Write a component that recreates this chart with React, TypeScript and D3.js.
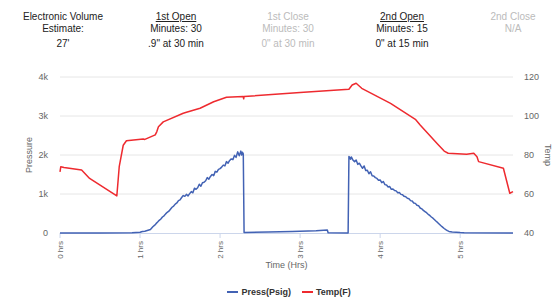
import React from "react";
import * as d3 from "d3";

// header table above the chart
const headerTitles = ["Electronic Volume", "1st Open", "1st Close", "2nd Open", "2nd Close"];
const headerLine2 = ["Estimate:", "Minutes: 30", "Minutes: 30", "Minutes: 15", "N/A"];
const headerLine3 = ["27'", '.9" at 30 min', '0" at 30 min', '0" at 15 min', ""];
const headerActive = [true, true, false, true, false];
const headerUnderline = [false, true, false, true, false];

// axes
const timeTicks = [0, 1, 2, 3, 4, 5];
const timeMax = 5.66;
const pressTicks = [0, 1000, 2000, 3000, 4000];
const pressTickLabels = ["0", "1k", "2k", "3k", "4k"];
const tempTicks = [40, 60, 80, 100, 120];

// Press(Psig) series
const pressHours = [
  0, 0.5, 0.9, 1.0, 1.03, 1.06, 1.1, 1.13,
  1.16, 1.18, 1.2, 1.22, 1.24, 1.26, 1.28, 1.3, 1.32, 1.34, 1.36, 1.38, 1.4, 1.42, 1.44, 1.46, 1.48,
  1.5, 1.52, 1.54, 1.56, 1.58, 1.6, 1.62, 1.64, 1.66, 1.68, 1.7, 1.72, 1.74, 1.76, 1.78, 1.8,
  1.82, 1.84, 1.86, 1.88, 1.9, 1.92, 1.94, 1.96, 1.98, 2.0, 2.02, 2.04, 2.06, 2.08, 2.1, 2.12,
  2.14, 2.16, 2.18, 2.2, 2.22, 2.24, 2.26, 2.27, 2.28, 2.29, 2.3,
  2.6, 2.9, 3.2, 3.34, 3.35, 3.6, 3.61,
  3.62, 3.63, 3.64, 3.66, 3.68, 3.7, 3.72, 3.74, 3.76, 3.78, 3.8, 3.82, 3.84, 3.86, 3.88, 3.9, 3.92,
  3.94, 3.96, 3.98, 4.0, 4.02, 4.04, 4.06, 4.08, 4.1, 4.12, 4.14, 4.16, 4.18, 4.2, 4.22, 4.24,
  4.26, 4.28, 4.3, 4.32, 4.34, 4.36, 4.38, 4.4, 4.42, 4.44, 4.46, 4.48, 4.5, 4.52, 4.54, 4.56,
  4.58, 4.6, 4.62, 4.64, 4.66, 4.68, 4.7, 4.72, 4.74, 4.76, 4.78, 4.8, 4.82, 4.84, 4.86, 4.9,
  4.95, 5.0, 5.05, 5.66,
];
const pressPsi = [
  0, 0, 5, 20, 40, 45, 70, 90,
  160, 195, 240, 280, 325, 360, 410, 440, 490, 530, 560, 610, 660, 690, 740, 770, 830,
  850, 910, 960, 940, 990, 950, 1010, 1060, 1030, 1150, 1120, 1160, 1250, 1200, 1290, 1300,
  1340, 1420, 1380, 1450, 1500, 1470, 1580, 1560, 1630, 1650, 1690, 1740, 1720, 1830, 1790, 1860,
  1900, 1880, 1990, 1940, 2080, 1980, 2100, 2000, 2070, 2030, 15,
  25, 40, 55, 75, 5, 0, 1960,
  1940, 1890, 1950, 1870, 1830, 1870, 1760, 1790, 1720, 1660, 1720, 1600, 1610, 1520, 1570, 1470, 1460,
  1420, 1400, 1350, 1360, 1290, 1320, 1240, 1230, 1180, 1190, 1120, 1130, 1090, 1080, 1030, 1040,
  990, 980, 940, 930, 890, 880, 830, 820, 770, 760, 710, 700, 640, 620, 580, 550,
  520, 480, 450, 410, 380, 340, 300, 265, 225, 185, 150, 115, 85, 60, 40, 25,
  20, 10, 5, 0,
];

// Temp(F) series
const tempHours = [
  0, 0.01, 0.05, 0.27, 0.37, 0.71, 0.74, 0.79, 0.83, 1.04, 1.06, 1.19, 1.21, 1.23, 1.29, 1.54, 1.57,
  1.75, 1.92, 2.08, 2.29, 2.295, 2.3, 3.0, 3.61, 3.65, 3.7, 3.77, 4.13, 4.44, 4.5, 4.72, 4.8, 4.85,
  5.08, 5.17, 5.21, 5.23, 5.54, 5.62, 5.66,
];
const tempF = [
  71.4, 74, 73.6, 72.3, 68, 59, 74, 85, 87.3, 88.2, 88, 90.3, 92, 94.5, 97, 101.4, 101.8,
  104, 107.3, 109.6, 110, 108.8, 110, 112, 113.7, 115.9, 116.8, 114.2, 106.5, 98.3, 95.4, 85.5, 82, 80.9,
  80.4, 80.9, 79.1, 76.6, 73.2, 60.4, 61.2,
];

const W = 555;
const H = 297;
const left = 60;
const right = 513;
const top = 77;
const bottom = 233;

const blue = "#4262b4";
const red = "#ee2a2f";
const font = "'Liberation Sans', Arial, sans-serif";

export default function App() {
  const x = d3.scaleLinear().domain([0, timeMax]).range([left, right]);
  const yP = d3.scaleLinear().domain([0, 4000]).range([bottom, top]);
  const yT = d3.scaleLinear().domain([40, 120]).range([bottom, top]);

  const pressLine = d3
    .line<number>()
    .x((_, i) => x(pressHours[i]))
    .y((d) => yP(d));
  const tempLine = d3
    .line<number>()
    .x((_, i) => x(tempHours[i]))
    .y((d) => yT(d));

  const colX = [63, 176, 288, 402, 513];

  return (
    <svg
      width={W}
      height={H}
      style={{ position: "absolute", left: 0, top: 0, display: "block", background: "#fff" }}
      fontFamily={font}
    >
      {/* header */}
      {headerTitles.map((t, i) => {
        const fill = headerActive[i] ? "#222" : "#bbb";
        return (
          <g key={t} fill={fill} fontSize={10} textAnchor="middle">
            <text x={colX[i]} y={20} style={{ textDecoration: headerUnderline[i] ? "underline" : "none" }}>
              {t}
            </text>
            <text x={colX[i]} y={32}>{headerLine2[i]}</text>
            <text x={colX[i]} y={46.5}>{headerLine3[i]}</text>
          </g>
        );
      })}

      {/* grid */}
      {pressTicks.slice(1).map((t) => (
        <line key={t} x1={left} x2={right} y1={yP(t)} y2={yP(t)} stroke="#e6e6e6" />
      ))}
      <line x1={left} x2={right} y1={bottom + 0.5} y2={bottom + 0.5} stroke="#ccd6eb" />
      {timeTicks.map((t) => (
        <line key={t} x1={x(t)} x2={x(t)} y1={bottom} y2={bottom + 5} stroke="#ccd6eb" />
      ))}

      {/* left axis */}
      {pressTicks.map((t, i) => (
        <text key={t} x={48} y={yP(t) + 3} textAnchor="end" fontSize={9} fill="#666">
          {pressTickLabels[i]}
        </text>
      ))}
      <text
        transform={`translate(32,${(top + bottom) / 2}) rotate(-90)`}
        textAnchor="middle"
        fontSize={9}
        fill="#666"
      >
        Pressure
      </text>

      {/* right axis */}
      {tempTicks.map((t) => (
        <text key={t} x={524} y={yT(t) + 3} fontSize={9} fill="#666">
          {t}
        </text>
      ))}
      <text
        transform={`translate(545,${(top + bottom) / 2}) rotate(90)`}
        textAnchor="middle"
        fontSize={9}
        fill="#666"
      >
        Temp
      </text>

      {/* bottom axis */}
      {timeTicks.map((t) => (
        <text
          key={t}
          transform={`translate(${x(t) + 3},${bottom + 8}) rotate(-90)`}
          textAnchor="end"
          fontSize={8}
          fill="#666"
        >
          {`${t} hrs`}
        </text>
      ))}
      <text x={(left + right) / 2} y={268} textAnchor="middle" fontSize={9} fill="#666">
        Time (Hrs)
      </text>

      {/* series */}
      <path d={pressLine(pressPsi) ?? ""} fill="none" stroke={blue} strokeWidth={1.5} strokeLinejoin="round" />
      <path d={tempLine(tempF) ?? ""} fill="none" stroke={red} strokeWidth={1.5} strokeLinejoin="round" />

      {/* legend */}
      <g fontSize={9} fontWeight="bold" fill="#333">
        <line x1={227} x2={238} y1={292} y2={292} stroke={blue} strokeWidth={2} />
        <text x={241.5} y={295}>Press(Psig)</text>
        <line x1={302} x2={313} y1={292} y2={292} stroke={red} strokeWidth={2} />
        <text x={316} y={295}>Temp(F)</text>
      </g>
    </svg>
  );
}
